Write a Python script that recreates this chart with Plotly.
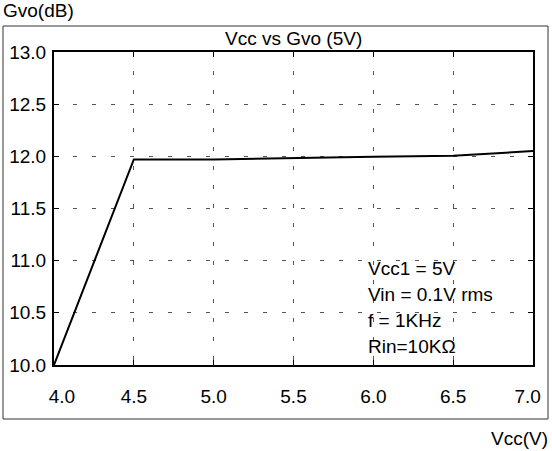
import plotly.graph_objects as go

vcc = [4.0, 4.5, 5.0, 5.5, 6.0, 6.5, 7.0]
gvo = [10.0, 11.97, 11.97, 11.985, 11.995, 12.005, 12.05]
x_ticks = [4.0, 4.5, 5.0, 5.5, 6.0, 6.5, 7.0]
x_labels = ["\u00a0\u00a0\u00a04.0", "4.5", "5.0", "5.5", "6.0", "6.5", "7.0\u00a0\u00a0"]
y_ticks = [10.0, 10.5, 11.0, 11.5, 12.0, 12.5, 13.0]
y_labels = ["10.0", "10.5", "11.0", "11.5", "12.0", "12.5", "13.0"]
notes = ["Vcc1 = 5V", "Vin = 0.1V rms", "f = 1KHz", "Rin=10K\u03a9"]

W, H = 552, 451
L, R, T, B = 54, 19, 52, 86
pw, ph = W - L - R, H - T - B

def px(x):
    return (x - L) / pw

def py(y):
    return (H - B - y) / ph

FONT = "Liberation Sans, Arial, sans-serif"
fs = 19

fig = go.Figure()
fig.add_trace(go.Scatter(x=vcc, y=gvo, mode="lines",
                         line=dict(color="black", width=2), showlegend=False,
                         hoverinfo="skip"))

axis_common = dict(
    showline=True, linecolor="black", linewidth=2, mirror="ticks",
    ticks="inside", ticklen=5, tickcolor="black", tickwidth=1,
    showgrid=True, gridcolor="#555", gridwidth=1, griddash="4px,15px",
    zeroline=False, tickfont=dict(family=FONT, size=fs, color="black"),
    ticklabeloverflow="allow", automargin=False,
)
fig.update_xaxes(range=[4.0, 7.0], tickvals=x_ticks, ticktext=x_labels,
                 ticklabelstandoff=13, **axis_common)
fig.update_yaxes(range=[10.0, 13.0], tickvals=y_ticks, ticktext=y_labels,
                 ticklabelstandoff=2, **axis_common)

fig.add_shape(type="rect", xref="paper", yref="paper",
              x0=px(3), x1=px(548), y0=py(419), y1=py(26),
              line=dict(color="#333", width=1), layer="below")

ann = []
ann.append(dict(text="Vcc vs Gvo (5V)", x=0.5, y=py(38), xanchor="center", yanchor="middle"))
ann.append(dict(text="Gvo(dB)", x=px(1), y=py(11), xanchor="left", yanchor="middle"))
ann.append(dict(text="Vcc(V)", x=px(550), y=py(438), xanchor="right", yanchor="middle"))
for i, t in enumerate(notes):
    ann.append(dict(text=t, x=px(366), y=py(268 + 26 * i), xanchor="left", yanchor="middle"))
for a in ann:
    a.update(xref="paper", yref="paper", showarrow=False,
             font=dict(family=FONT, size=fs, color="black"))
fig.update_layout(annotations=ann)

fig.update_layout(width=W, height=H, margin=dict(l=L, r=R, t=T, b=B, autoexpand=False),
                  paper_bgcolor="white", plot_bgcolor="white",
                  font=dict(family=FONT, size=fs, color="black"))
fig.write_html("out.html", config={"displayModeBar": False},
               post_script="document.body.style.margin='0';document.body.style.overflow='hidden';")
